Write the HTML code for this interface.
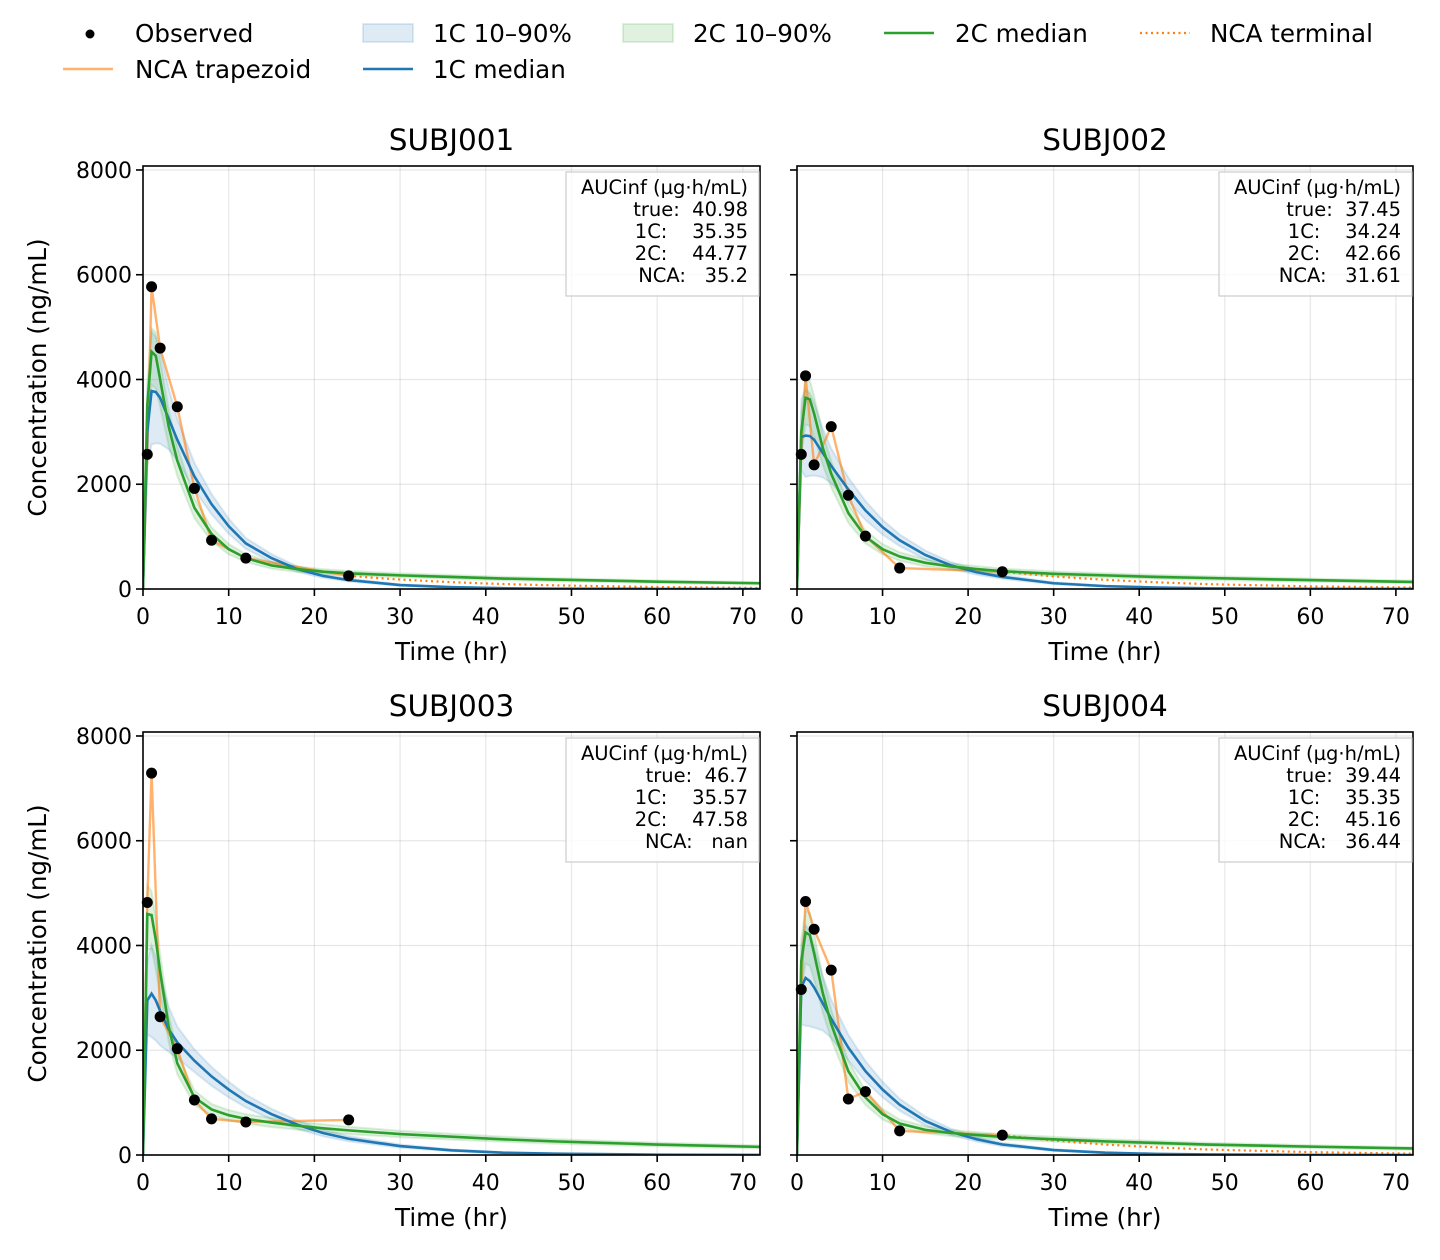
<!DOCTYPE html>
<html><head><meta charset="utf-8"><style>
html,body{margin:0;padding:0;background:#fff;}
svg{display:block;font-family:"DejaVu Sans","Liberation Sans",sans-serif;}
</style></head><body>
<svg id="chart" width="1440" height="1260" viewBox="0 0 1440 1260" xmlns="http://www.w3.org/2000/svg">
<g font-size="24.6" fill="#000">
 <g><circle cx="90" cy="34" r="4.5" fill="#000"/><text x="135" y="42">Observed</text></g>
 <g><rect x="363" y="24" width="50" height="18" fill="#1f77b4" fill-opacity="0.15" stroke="#1f77b4" stroke-opacity="0.15" stroke-width="2"/><text x="433" y="42">1C 10–90%</text></g>
 <g><rect x="623" y="24" width="50" height="18" fill="#2ca02c" fill-opacity="0.15" stroke="#2ca02c" stroke-opacity="0.15" stroke-width="2"/><text x="693" y="42">2C 10–90%</text></g>
 <g><line x1="884" y1="33" x2="934" y2="33" stroke="#2ca02c" stroke-width="2.6"/><text x="955" y="42">2C median</text></g>
 <g><line x1="1140" y1="33" x2="1190" y2="33" stroke="#ff7f0e" stroke-width="2.2" stroke-dasharray="2,3.5"/><text x="1210" y="42">NCA terminal</text></g>
 <g><line x1="63" y1="69" x2="113" y2="69" stroke="#ff7f0e" stroke-opacity="0.6" stroke-width="2.6"/><text x="135" y="78">NCA trapezoid</text></g>
 <g><line x1="363" y1="69" x2="413" y2="69" stroke="#1f77b4" stroke-width="2.6"/><text x="433" y="78">1C median</text></g>
</g>
</svg>
<script>
const obsTimes=[0.5,1,2,4,6,8,12,24];
const gridTimes=[0,0.5,1,1.5,2,3,4,6,8,10,12,15,18,21,24,30,36,42,48,60,72];
const termTimes=[24,30,36,42,48,60,72];
const subjects=["SUBJ001","SUBJ002","SUBJ003","SUBJ004"];
const obs1=[2570,5770,4600,3480,1920,930,590,250];
const obs2=[2570,4070,2370,3100,1790,1010,400,330];
const obs3=[4820,7290,2640,2030,1050,690,630,670];
const obs4=[3160,4840,4310,3530,1070,1210,460,380];
const oneC1=[0,3000,3780,3760,3650,3250,2850,2150,1620,1200,870,590,380,250,170,75,35,15,7,2,0];
const oneC2=[0,2900,2930,2920,2850,2600,2350,1900,1500,1180,930,650,450,320,230,110,55,27,13,3,1];
const oneC3=[0,2950,3080,2950,2750,2400,2150,1800,1500,1250,1030,780,580,420,310,170,90,45,25,7,2];
const oneC4=[0,3200,3380,3320,3200,2900,2600,2050,1600,1250,960,650,440,300,200,95,45,20,10,2,0];
const twoC1=[0,3500,4530,4450,4000,3100,2450,1550,1050,760,590,450,380,330,300,260,230,200,180,140,110];
const twoC2=[0,3000,3650,3620,3350,2700,2200,1450,1000,760,620,500,430,380,340,290,260,230,210,170,135];
const twoC3=[0,4600,4580,4100,3500,2450,1750,1100,870,760,690,620,560,510,470,400,350,300,260,200,155];
const twoC4=[0,3700,4250,4200,3850,3100,2500,1600,1100,780,600,480,420,380,345,300,260,230,200,160,125];
const oneCLo=[1,0.78,0.73,0.74,0.76,0.82,0.86,0.88,0.88,0.88,0.88,0.87,0.86,0.85,0.84,0.82,0.8,0.78,0.76,0.72,0.7];
const oneCHi=[1,1.25,1.3,1.28,1.25,1.18,1.14,1.12,1.12,1.12,1.12,1.13,1.14,1.15,1.16,1.18,1.2,1.22,1.24,1.28,1.3];
const twoCLo=[1,0.85,0.86,0.86,0.87,0.88,0.88,0.87,0.87,0.87,0.87,0.86,0.86,0.86,0.85,0.85,0.84,0.84,0.83,0.82,0.8];
const twoCHi=[1,1.12,1.1,1.1,1.1,1.1,1.11,1.12,1.12,1.13,1.13,1.14,1.14,1.15,1.15,1.16,1.16,1.17,1.17,1.18,1.2];
const term1=[250,180,130,95,70,37,20];
const term2=[330,240,175,128,93,50,28];
const term4=[380,275,200,145,105,55,25];
const aucTrue=["40.98","37.45","46.7","39.44"];
const auc1C=["35.35","34.24","35.57","35.35"];
const auc2C=["44.77","42.66","47.58","45.16"];
const aucNCA=["35.2","31.61","nan","36.44"];
const xTicks=[0,10,20,30,40,50,60,70];
const yTicks=[0,2000,4000,6000,8000];

const obsAll=[obs1,obs2,obs3,obs4];
const oneAll=[oneC1,oneC2,oneC3,oneC4];
const twoAll=[twoC1,twoC2,twoC3,twoC4];
const termAll=[term1,term2,null,term4];
const NS="http://www.w3.org/2000/svg";
const svg=document.getElementById('chart');
function mk(tag,attrs,parent){const e=document.createElementNS(NS,tag);for(const k in attrs)e.setAttribute(k,attrs[k]);parent.appendChild(e);return e;}
const geo=[{x0:143,x1:760,yT:166,yB:589},{x0:797,x1:1413,yT:166,yB:589},{x0:143,x1:760,yT:732,yB:1155},{x0:797,x1:1413,yT:732,yB:1155}];
const XMAX=72,YMAX=8076;
geo.forEach((g,i)=>{
 const sx=t=>g.x0+(t/XMAX)*(g.x1-g.x0);
 const sy=v=>g.yB-(v/YMAX)*(g.yB-g.yT);
 const p=mk('g',{},svg);
 
 
 const cid='clip'+i;
 const cp=mk('clipPath',{id:cid},p);mk('rect',{x:g.x0,y:g.yT,width:g.x1-g.x0,height:g.yB-g.yT},cp);
 const grid=mk('g',{stroke:'#b0b0b0','stroke-opacity':0.3,'stroke-width':1.2},p);
 
 xTicks.forEach(t=>mk('line',{x1:sx(t),x2:sx(t),y1:g.yT,y2:g.yB},grid));
 yTicks.forEach(v=>mk('line',{x1:g.x0,x2:g.x1,y1:sy(v),y2:sy(v)},grid));
 const plot=mk('g',{'clip-path':'url(#'+cid+')'},p);
 const band=(med,lo,hi,col,name)=>{
  let d='';gridTimes.forEach((t,k)=>{d+=(k?'L':'M')+sx(t)+','+sy(med[k]*hi[k]);});
  for(let k=gridTimes.length-1;k>=0;k--)d+='L'+sx(gridTimes[k])+','+sy(med[k]*lo[k]);
  const e=mk('path',{d:d+'Z',fill:col,'fill-opacity':0.15,stroke:col,'stroke-opacity':0.15,'stroke-width':2},plot);
  
 };
 const line=(ts,vs,attrs,name)=>{
  const pts=ts.map((t,k)=>sx(t)+','+sy(vs[k])).join(' ');
  const e=mk('polyline',Object.assign({points:pts,fill:'none'},attrs),plot);
  
 };
 band(oneAll[i],oneCLo,oneCHi,'#1f77b4','band-1c');
 band(twoAll[i],twoCLo,twoCHi,'#2ca02c','band-2c');
 line([0].concat(obsTimes),[0].concat(obsAll[i]),{stroke:'#ff7f0e','stroke-opacity':0.6,'stroke-width':2.4},'nca-trapezoid-line');
 if(termAll[i])line(termTimes,termAll[i],{stroke:'#ff7f0e','stroke-width':2.2,'stroke-dasharray':'2,3.5'},'nca-terminal-line');
 line(gridTimes,oneAll[i],{stroke:'#1f77b4','stroke-width':2.6},'median-1c-line');
 line(gridTimes,twoAll[i],{stroke:'#2ca02c','stroke-width':2.6},'median-2c-line');
 obsTimes.forEach((t,k)=>{const c=mk('circle',{cx:sx(t),cy:sy(obsAll[i][k]),r:5.5,fill:'#000'},p);
  });
 const fr=mk('rect',{x:g.x0,y:g.yT,width:g.x1-g.x0,height:g.yB-g.yT,fill:'none',stroke:'#000','stroke-width':1.6},p);
 
 const xa=mk('g',{'font-size':22,'text-anchor':'middle'},p);
 
 xTicks.forEach(t=>{mk('line',{x1:sx(t),x2:sx(t),y1:g.yB,y2:g.yB+7,stroke:'#000','stroke-width':1.6},xa);
  const tx=mk('text',{x:sx(t),y:g.yB+35},xa);tx.textContent=t;});
 const xl=mk('text',{x:(g.x0+g.x1)/2,y:g.yB+71,'font-size':24.6,'text-anchor':'middle'},p);xl.textContent='Time (hr)';
 
 const ya=mk('g',{'font-size':22,'text-anchor':'end'},p);
 
 yTicks.forEach(v=>{mk('line',{x1:g.x0-7,x2:g.x0,y1:sy(v),y2:sy(v),stroke:'#000','stroke-width':1.6},ya);
  if(i%2===0){const tx=mk('text',{x:g.x0-11,y:sy(v)+8},ya);tx.textContent=v;}});
 if(i%2===0){const yl=mk('text',{x:0,y:0,'font-size':24.6,'text-anchor':'middle',transform:'translate(46,'+((g.yT+g.yB)/2)+') rotate(-90)'},p);
  yl.textContent='Concentration (ng/mL)';}
 const ti=mk('text',{x:(g.x0+g.x1)/2,y:g.yT-16,'font-size':29.5,'text-anchor':'middle'},p);ti.textContent=subjects[i];
 
 const ib=mk('g',{'font-size':19.5,'text-anchor':'end'},p);
 
 mk('rect',{x:g.x1-194,y:g.yT+6,width:193,height:124,fill:'#fff','fill-opacity':0.8,stroke:'#ccc','stroke-width':1.2},ib);
 const rows=['AUCinf (µg·h/mL)','true:  '+aucTrue[i],'1C:    '+auc1C[i],'2C:    '+auc2C[i],'NCA:   '+aucNCA[i]];
 rows.forEach((r,k)=>{const tx=mk('text',{x:g.x1-12,y:g.yT+28+k*22,'xml:space':'preserve'},ib);tx.style.whiteSpace='pre';tx.textContent=r;});
});
</script>
</body></html>
